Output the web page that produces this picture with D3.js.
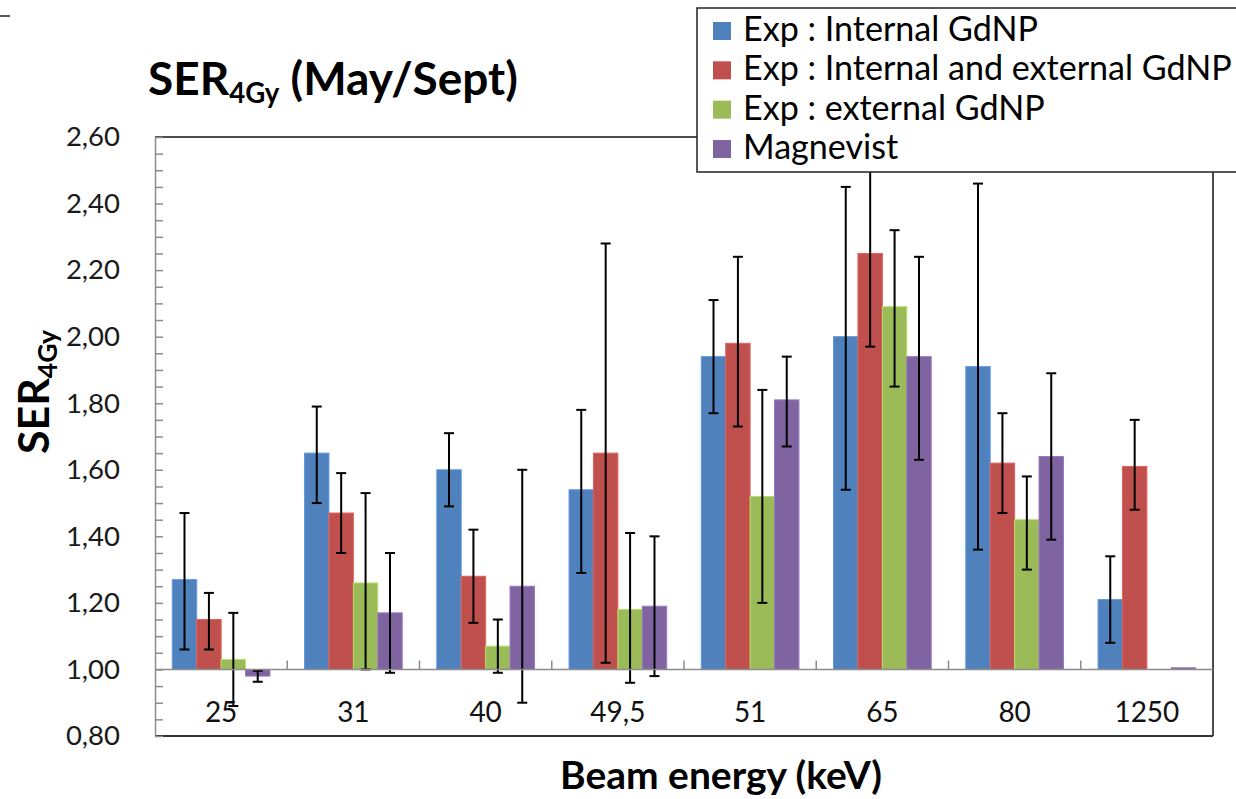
<!DOCTYPE html>
<html>
<head>
<meta charset="utf-8">
<script src="https://cdn.jsdelivr.net/npm/d3@7"></script>
<style>
  body { margin: 0; background: #fff; }
  svg { display: block; font-family: Lato, "Open Sans", sans-serif; }
</style>
</head>
<body>
<div id="chart"></div>
<script>

// -- DATA

var categories = ["25", "31", "40", "49,5", "51", "65", "80", "1250"];
var seriesNames = ["Exp : Internal GdNP", "Exp : Internal and external GdNP", "Exp : external GdNP", "Magnevist"];
var seriesColors = ["#4F81BD", "#C0504D", "#9BBB59", "#8064A2"];

var internalVals = [1.27, 1.65, 1.60, 1.54, 1.94, 2.00, 1.91, 1.21];
var internalLow = [1.06, 1.50, 1.49, 1.29, 1.77, 1.54, 1.36, 1.08];
var internalHigh = [1.47, 1.79, 1.71, 1.78, 2.11, 2.45, 2.46, 1.34];

var intExtVals = [1.15, 1.47, 1.28, 1.65, 1.98, 2.25, 1.62, 1.61];
var intExtLow = [1.06, 1.35, 1.14, 1.02, 1.73, 1.97, 1.47, 1.48];
var intExtHigh = [1.23, 1.59, 1.42, 2.28, 2.24, 2.52, 1.77, 1.75];

var externalVals = [1.03, 1.26, 1.07, 1.18, 1.52, 2.09, 1.45, null];
var externalLow = [0.89, 1.00, 0.99, 0.96, 1.20, 1.85, 1.30, null];
var externalHigh = [1.17, 1.53, 1.15, 1.41, 1.84, 2.32, 1.58, null];

var magnevistVals = [0.98, 1.17, 1.25, 1.19, 1.81, 1.94, 1.64, 1.005];
var magnevistLow = [0.963, 0.99, 0.90, 0.98, 1.67, 1.63, 1.39, null];
var magnevistHigh = [0.996, 1.35, 1.60, 1.40, 1.94, 2.24, 1.89, null];

var yTickValues = [0.8, 1.0, 1.2, 1.4, 1.6, 1.8, 2.0, 2.2, 2.4, 2.6];
var yTickLabels = ["0,80", "1,00", "1,20", "1,40", "1,60", "1,80", "2,00", "2,20", "2,40", "2,60"];

var seriesData = [
  {name: seriesNames[0], color: seriesColors[0], values: internalVals, low: internalLow, high: internalHigh},
  {name: seriesNames[1], color: seriesColors[1], values: intExtVals, low: intExtLow, high: intExtHigh},
  {name: seriesNames[2], color: seriesColors[2], values: externalVals, low: externalLow, high: externalHigh},
  {name: seriesNames[3], color: seriesColors[3], values: magnevistVals, low: magnevistLow, high: magnevistHigh}
];

// -- LAYOUT

var width = 1236, height = 799;
var plotLeft = 155, plotRight = 1213, plotTop = 137, plotBottom = 736;
var baseValue = 1.0;

var svg = d3.select("#chart").append("svg")
  .attr("width", width)
  .attr("height", height);

var y = d3.scaleLinear().domain([0.8, 2.6]).range([plotBottom, plotTop]);
var x0 = d3.scaleBand().domain(categories).range([plotLeft, plotRight]);
var groupPad = 17.3;
var x1 = d3.scaleBand().domain(seriesNames).range([groupPad, x0.bandwidth() - groupPad]);

// shrink / grow font so the text takes the given width
function fitWidth(sel, target) {
  var w = sel.node().getComputedTextLength();
  var fs = parseFloat(sel.attr("font-size"));
  sel.attr("font-size", fs * target / w);
}

// stray slide line top left
svg.append("line")
  .attr("x1", 0).attr("x2", 10).attr("y1", 16).attr("y2", 16)
  .attr("stroke", "#222").attr("stroke-width", 1.5);

// -- TITLE

var title = svg.append("text")
  .attr("x", 148).attr("y", 95)
  .attr("font-size", 38)
  .attr("font-weight", "bold")
  .attr("fill", "#000");
title.append("tspan").text("SER");
title.append("tspan").text("4Gy").style("font-size", "60%").attr("dy", "0.28em");
title.append("tspan").text(" (May/Sept)").attr("dy", "-0.17em");
fitWidth(title, 370);

// -- PLOT FRAME

var frame = svg.append("g");
frame.append("line")
  .attr("x1", plotLeft).attr("x2", plotRight).attr("y1", plotTop).attr("y2", plotTop)
  .attr("stroke", "#111").attr("stroke-width", 1.5);
frame.append("line")
  .attr("x1", plotRight).attr("x2", plotRight).attr("y1", plotTop).attr("y2", plotBottom)
  .attr("stroke", "#111").attr("stroke-width", 1.5);
frame.append("line")
  .attr("x1", plotLeft).attr("x2", plotRight).attr("y1", plotBottom).attr("y2", plotBottom)
  .attr("stroke", "#333").attr("stroke-width", 2);

// -- BARS

var groups = svg.append("g").selectAll("g")
  .data(seriesData)
  .enter().append("g")
  .attr("fill", function(d) { return d.color; })
  .attr("stroke", function(d) { return d3.color(d.color).brighter(0.5); })
  .attr("stroke-width", 1);

groups.selectAll("rect")
  .data(function(s) {
    return categories.map(function(c, i) { return {cat: c, name: s.name, value: s.values[i]}; })
      .filter(function(d) { return d.value != null; });
  })
  .enter().append("rect")
  .attr("x", function(d) { return x0(d.cat) + x1(d.name); })
  .attr("width", x1.bandwidth())
  .attr("y", function(d) { return Math.min(y(d.value), y(baseValue)); })
  .attr("height", function(d) { return Math.max(1, Math.abs(y(d.value) - y(baseValue))); });

// -- ERROR BARS

var errData = [];
seriesData.forEach(function(s) {
  categories.forEach(function(c, i) {
    if (s.low[i] != null) {
      errData.push({cat: c, name: s.name, low: s.low[i], high: s.high[i]});
    }
  });
});

var capHalf = 5;
var err = svg.append("g")
  .attr("stroke", "#000")
  .attr("stroke-width", 2)
  .selectAll("g")
  .data(errData)
  .enter().append("g")
  .attr("transform", function(d) {
    return "translate(" + (x0(d.cat) + x1(d.name) + x1.bandwidth() / 2) + ",0)";
  });
err.append("line")
  .attr("y1", function(d) { return y(d.low); })
  .attr("y2", function(d) { return y(d.high); });
err.append("line")
  .attr("x1", -capHalf).attr("x2", capHalf)
  .attr("y1", function(d) { return y(d.low); })
  .attr("y2", function(d) { return y(d.low); });
err.append("line")
  .attr("x1", -capHalf).attr("x2", capHalf)
  .attr("y1", function(d) { return y(d.high); })
  .attr("y2", function(d) { return y(d.high); });

// -- AXES

// y axis with inside minor ticks every 0.05
var yAxisTicks = svg.append("g")
  .attr("transform", "translate(" + plotLeft + ",0)")
  .call(d3.axisRight(y).ticks(36).tickSize(8).tickSizeOuter(0).tickFormat(""));
yAxisTicks.selectAll("path, line").attr("stroke", "#8c8c8c").attr("stroke-width", 1.5);

var yAxisLabels = svg.append("g")
  .attr("transform", "translate(" + plotLeft + ",0)")
  .call(d3.axisLeft(y).tickValues(yTickValues)
    .tickFormat(function(d, i) { return yTickLabels[i]; })
    .tickSize(0).tickPadding(35));
yAxisLabels.select(".domain").remove();
yAxisLabels.selectAll("text")
  .attr("font-family", "Lato, sans-serif")
  .attr("font-size", 27.5)
  .attr("fill", "#1a1a1a");

// category axis at 1.00
var xAxis = svg.append("g").attr("stroke", "#8c8c8c").attr("stroke-width", 1.5);
xAxis.append("line")
  .attr("x1", plotLeft).attr("x2", plotRight)
  .attr("y1", y(baseValue)).attr("y2", y(baseValue));
xAxis.selectAll(".tick")
  .data(categories.slice(1))
  .enter().append("line")
  .attr("x1", function(c) { return x0(c); })
  .attr("x2", function(c) { return x0(c); })
  .attr("y1", y(baseValue)).attr("y2", y(baseValue) - 9);

svg.append("g").selectAll("text")
  .data(categories)
  .enter().append("text")
  .attr("x", function(c) { return x0(c) + x0.bandwidth() / 2; })
  .attr("y", 722)
  .attr("text-anchor", "middle")
  .attr("font-size", 28)
  .attr("fill", "#111")
  .text(function(c) { return c; });

// axis titles
var xTitle = svg.append("text")
  .attr("x", 721).attr("y", 789)
  .attr("text-anchor", "middle")
  .attr("font-size", 33)
  .attr("font-weight", "bold")
  .attr("fill", "#000")
  .text("Beam energy (keV)");
fitWidth(xTitle, 322);

var yTitle = svg.append("text")
  .attr("transform", "translate(49,392) rotate(-90)")
  .attr("text-anchor", "middle")
  .attr("font-size", 32)
  .attr("font-weight", "bold")
  .attr("fill", "#000");
yTitle.append("tspan").text("SER");
yTitle.append("tspan").text("4Gy").style("font-size", "62%").attr("dy", "0.3em");
fitWidth(yTitle, 124);

// -- LEGEND

var legend = svg.append("g").attr("transform", "translate(697,8)");
legend.append("rect")
  .attr("width", 600).attr("height", 164)
  .attr("fill", "#fff")
  .attr("stroke", "#222").attr("stroke-width", 1.5);

var rowY = d3.scalePoint().domain(seriesNames).range([23, 141]);
var items = legend.selectAll(".item")
  .data(seriesData)
  .enter().append("g")
  .attr("transform", function(d) { return "translate(0," + rowY(d.name) + ")"; });
items.append("rect")
  .attr("x", 16).attr("y", -9)
  .attr("width", 18).attr("height", 18)
  .attr("fill", function(d) { return d.color; });
var legendText = items.append("text")
  .attr("x", 46).attr("y", 10)
  .attr("font-size", 28)
  .attr("fill", "#000")
  .text(function(d) { return d.name; });

// size all entries from the longest one
var longest = legendText.filter(function(d) { return d.name == seriesNames[1]; });
var lw = longest.node().getComputedTextLength();
legendText.attr("font-size", 28 * 489 / lw);

</script>
</body>
</html>
